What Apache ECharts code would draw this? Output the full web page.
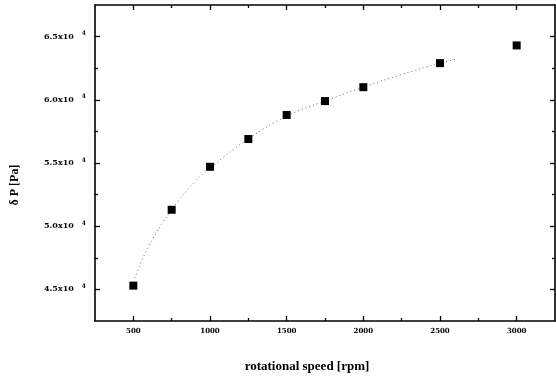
<!DOCTYPE html>
<html>
<head>
<meta charset="utf-8">
<script src="https://cdn.jsdelivr.net/npm/echarts@6/dist/echarts.min.js"></script>
<style>
  html, body { margin: 0; padding: 0; background: #fff; }
  #chart { width: 556px; height: 378px; }
</style>
</head>
<body>
<div id="chart"></div>
<script>
// measured points
const speeds = [500, 750, 1000, 1250, 1500, 1750, 2000, 2500, 3000];
const deltaP = [4.53, 5.13, 5.47, 5.69, 5.88, 5.99, 6.10, 6.29, 6.43];

// dotted fit curve
const fitSpeeds = [510, 600, 750, 900, 1000, 1250, 1500, 1750, 2000, 2250, 2500, 2600];
const fitValues = [4.59, 4.84, 5.13, 5.35, 5.46, 5.69, 5.87, 5.99, 6.10, 6.20, 6.29, 6.32];

const xMajor = [500, 1000, 1500, 2000, 2500, 3000];
const xMinor = [750, 1250, 1750, 2250, 2750];
const yMajor = [4.5, 5.0, 5.5, 6.0, 6.5];
const yMinor = [4.75, 5.25, 5.75, 6.25];

const xTitle = "rotational speed [rpm]";
const yTitle = "δ P [Pa]";

const serif = "'DejaVu Serif', serif";
const line = { lineStyle: { color: "#000", width: 1.6 } };

function xAx(position, ticks, len, withLine, withLabel) {
  return {
    type: "value", position, min: 250, max: 3250,
    axisLine: { show: withLine, onZero: false, ...line },
    axisTick: { show: true, inside: true, length: len, customValues: ticks, lineStyle: { color: "#000", width: 1.3 } },
    axisLabel: withLabel
      ? { show: true, customValues: ticks, margin: 7, formatter: (v) => String(v),
          color: "#000", fontFamily: serif, fontWeight: "bold", fontSize: 7 }
      : { show: false },
    splitLine: { show: false },
  };
}

function yAx(position, ticks, len, withLine, withLabel) {
  return {
    type: "value", position, min: 4.25, max: 6.75,
    axisLine: { show: withLine, onZero: false, ...line },
    axisTick: { show: true, inside: true, length: len, customValues: ticks, lineStyle: { color: "#000", width: 1.3 } },
    axisLabel: withLabel
      ? {
          show: true, customValues: ticks, margin: 9,
          formatter: (v) => `{b|${v.toFixed(1)}x10}{s|4}`,
          rich: {
            b: { color: "#000", fontFamily: serif, fontWeight: "bold", fontSize: 8, padding: [0, 8, 0, 0] },
            s: { color: "#000", fontFamily: serif, fontWeight: "bold", fontSize: 6, verticalAlign: "top", padding: [0, 0, 6, 0] },
          },
        }
      : { show: false },
    splitLine: { show: false },
  };
}

const chart = echarts.init(document.getElementById("chart"));
chart.setOption({
  animation: false,
  backgroundColor: "#fff",
  grid: { left: 95, right: 1, top: 5, bottom: 57 },
  xAxis: [
    xAx("bottom", xMajor, 5, true, true),
    xAx("bottom", xMinor, 3, false, false),
    xAx("top", xMajor, 5, true, false),
    xAx("top", xMinor, 3, false, false),
  ],
  yAxis: [
    yAx("left", yMajor, 5, true, true),
    yAx("left", yMinor, 3, false, false),
    yAx("right", yMajor, 5, true, false),
    yAx("right", yMinor, 3, false, false),
  ],
  series: [
    {
      type: "line",
      data: fitSpeeds.map((s, i) => [s, fitValues[i]]),
      smooth: true,
      showSymbol: false,
      lineStyle: { color: "#666", width: 1, type: [1, 3] },
      z: 2,
    },
    {
      type: "scatter",
      data: speeds.map((s, i) => [s, deltaP[i]]),
      symbol: "rect",
      symbolSize: 8,
      itemStyle: { color: "#000", opacity: 1 },
      z: 3,
    },
  ],
  graphic: [
    {
      type: "text", x: 307, y: 367,
      style: { text: xTitle, fill: "#000", font: "bold 13px 'Liberation Serif', serif", textAlign: "center", textVerticalAlign: "middle" },
    },
    {
      type: "text", x: 15, y: 185, rotation: Math.PI / 2,
      style: { text: yTitle, fill: "#000", font: "bold 12px 'Liberation Serif', serif", textAlign: "center", textVerticalAlign: "middle" },
    },
  ],
});
</script>
</body>
</html>
